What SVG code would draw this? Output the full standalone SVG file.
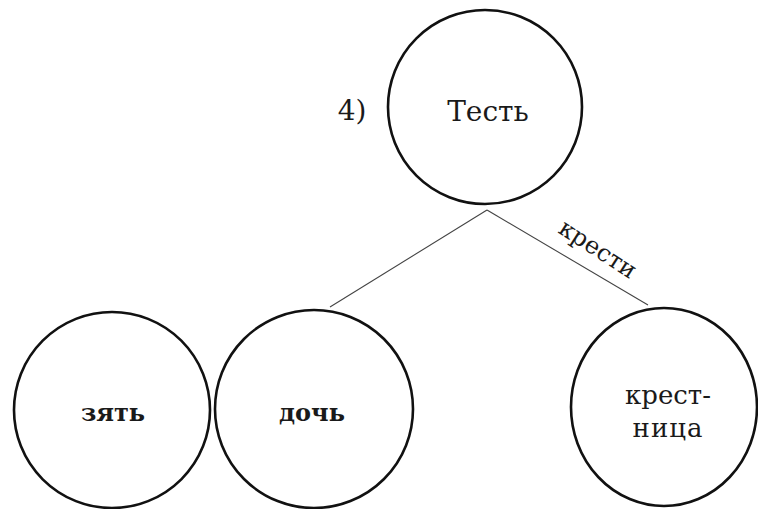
<svg xmlns="http://www.w3.org/2000/svg" width="758" height="509" viewBox="0 0 758 509">
<style>
.node{fill:none;stroke:#111;stroke-width:2.6}
.lbl{font-family:"DejaVu Serif","Liberation Serif",serif;fill:#1a1a1a;text-anchor:middle;dominant-baseline:central;font-size:26px}
.edge{stroke:#444;stroke-width:1.1;fill:none}
</style>
<rect width="758" height="509" fill="#fff"/>
<g id="connectors">
<line class="edge" x1="487" y1="210" x2="330" y2="307"/>
<line class="edge" x1="487" y1="210" x2="648" y2="305"/>
<text class="lbl" transform="translate(598,249) rotate(33)" style="font-size:24px">крести</text>
</g>
<text class="lbl" x="352" y="110" style="font-size:28px">4)</text>
<g id="node-test">
<circle class="node" cx="485" cy="107" r="97"/>
<text class="lbl" x="488" y="111" style="font-size:28px">Тесть</text>
</g>
<g id="node-zyat">
<circle class="node" cx="112" cy="410" r="98"/>
<text class="lbl" x="113" y="412" style="font-weight:bold;font-size:24px">зять</text>
</g>
<g id="node-doch">
<circle class="node" cx="314" cy="409" r="99"/>
<text class="lbl" x="312" y="412" style="font-weight:bold;font-size:24px">дочь</text>
</g>
<g id="node-krestnitsa">
<ellipse class="node" cx="664" cy="407" rx="93" ry="99"/>
<text class="lbl" x="668" y="395">крест-</text>
<text class="lbl" x="668" y="428" style="letter-spacing:1px">ница</text>
</g>
</svg>
